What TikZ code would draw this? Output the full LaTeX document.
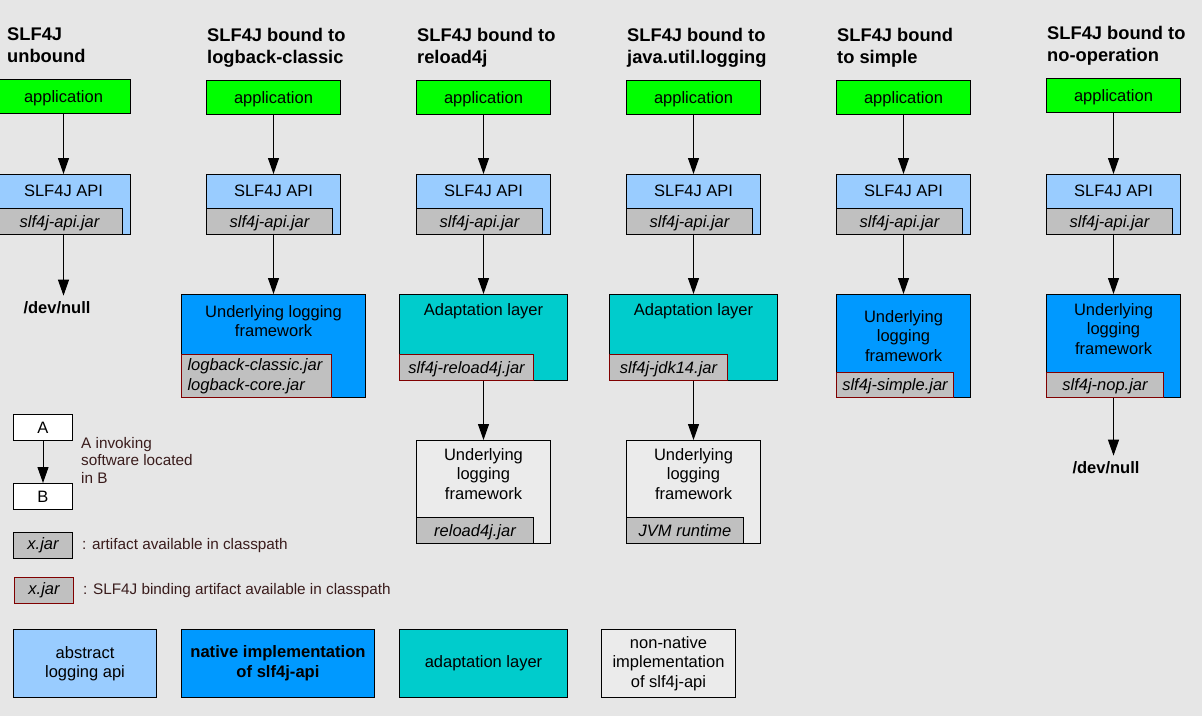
\documentclass[tikz,border=0pt]{standalone}
\usepackage{fontspec}
\setmainfont{Liberation Sans}
\usetikzlibrary{arrows.meta,positioning}

\definecolor{bg}{HTML}{E6E6E6}
\definecolor{appgreen}{HTML}{00FF00}
\definecolor{apiblue}{HTML}{99CCFF}
\definecolor{nativeblue}{HTML}{0099FF}
\definecolor{adaptteal}{HTML}{00CCCC}
\definecolor{jargray}{HTML}{C0C0C0}
\definecolor{plainbox}{HTML}{EBEBEB}
\definecolor{bindred}{HTML}{800000}
\definecolor{legtext}{HTML}{3A1C1C}

\newcommand{\boxfont}{\fontsize{16.5}{19.5}\selectfont}
\newcommand{\legfont}{\fontsize{15.3}{17.5}\selectfont}

\begin{document}
\begin{tikzpicture}[x=1pt, y=-1pt, font=\boxfont,
  box/.style={draw, line width=1pt, inner sep=0pt, anchor=north west, align=center},
  appbox/.style={box, fill=appgreen, minimum width=134pt, minimum height=34pt, text depth=0pt},
  apibox/.style={box, fill=apiblue, minimum width=134pt, minimum height=60pt},
  jarbox/.style={draw, line width=1pt, inner sep=0pt, fill=jargray, font=\boxfont\itshape,
    minimum height=26pt, anchor=south west, text depth=0pt},
  bindbox/.style={jarbox, draw=bindred},
  txt/.style={align=center, inner sep=0pt},
  title/.style={font=\fontsize{18.3}{22}\selectfont\bfseries, align=left, anchor=west, inner sep=0pt},
  devnull/.style={font=\boxfont\bfseries, inner sep=6pt},
  legtxt/.style={font=\legfont, text=legtext, align=left, inner sep=0pt},
  arr/.style={-{Triangle[length=16pt, width=11pt]}, line width=1pt}]

\path[use as bounding box, fill=bg] (0,0) rectangle (1202,716);

% titles
\node[title] (title1) at (7,45) {SLF4J\\unbound};
\node[title] (title2) at (207,48) {SLF4J bound to\\logback-classic};
\node[title] (title3) at (417,48) {SLF4J bound to\\reload4j};
\node[title] (title4) at (627,48) {SLF4J bound to\\java.util.logging};
\node[title] (title5) at (837,48) {SLF4J bound\\to simple};
\node[title] (title6) at (1047,46) {SLF4J bound to\\no-operation};

% application
\node[appbox] (app1) at (-4,79) {application};
\node[appbox] (app2) at (206,80) {application};
\node[appbox] (app3) at (416,80) {application};
\node[appbox] (app4) at (626,80) {application};
\node[appbox] (app5) at (836,80) {application};
\node[appbox] (app6) at (1046,78) {application};

% SLF4J API
\node[apibox] (api1) at (-4,174) {};
\node[txt] (apitxt1) at ([yshift=-17pt]api1.north) {SLF4J API};
\node[jarbox, minimum width=126pt] (apijar1) at (api1.south west) {slf4j-api.jar};
\node[apibox] (api2) at (206,174) {};
\node[txt] (apitxt2) at ([yshift=-17pt]api2.north) {SLF4J API};
\node[jarbox, minimum width=126pt] (apijar2) at (api2.south west) {slf4j-api.jar};
\node[apibox] (api3) at (416,174) {};
\node[txt] (apitxt3) at ([yshift=-17pt]api3.north) {SLF4J API};
\node[jarbox, minimum width=126pt] (apijar3) at (api3.south west) {slf4j-api.jar};
\node[apibox] (api4) at (626,174) {};
\node[txt] (apitxt4) at ([yshift=-17pt]api4.north) {SLF4J API};
\node[jarbox, minimum width=126pt] (apijar4) at (api4.south west) {slf4j-api.jar};
\node[apibox] (api5) at (836,174) {};
\node[txt] (apitxt5) at ([yshift=-17pt]api5.north) {SLF4J API};
\node[jarbox, minimum width=126pt] (apijar5) at (api5.south west) {slf4j-api.jar};
\node[apibox] (api6) at (1046,174) {};
\node[txt] (apitxt6) at ([yshift=-17pt]api6.north) {SLF4J API};
\node[jarbox, minimum width=126pt] (apijar6) at (api6.south west) {slf4j-api.jar};

% unbound
\node[devnull] (null1) at (57,308) {/dev/null};

% logback-classic
\node[box, fill=nativeblue, minimum width=184pt, minimum height=103pt] (fw2) at (181,294) {};
\node[txt] (fwtxt2) at ([yshift=-27pt]fw2.north) {Underlying logging\\framework};
\node[bindbox, text depth=, minimum height=43pt, text width=138pt, inner xsep=6pt, align=left] (fwjar2)
  at (fw2.south west) {logback-classic.jar\\logback-core.jar};

% reload4j
\node[box, fill=adaptteal, minimum width=168pt, minimum height=86pt] (adapt3) at (399,294) {};
\node[txt] (adapttxt3) at ([yshift=-17pt]adapt3.north) {Adaptation layer};
\node[bindbox, minimum width=134pt] (adaptjar3) at (adapt3.south west) {slf4j-reload4j.jar};
\node[box, fill=plainbox, minimum width=134pt, minimum height=103pt] (under3) at (416,440) {};
\node[txt] (undertxt3) at ([yshift=-34pt]under3.north) {Underlying\\logging\\framework};
\node[jarbox, minimum width=117pt] (underjar3) at (under3.south west) {reload4j.jar};

% java.util.logging
\node[box, fill=adaptteal, minimum width=168pt, minimum height=86pt] (adapt4) at (609,294) {};
\node[txt] (adapttxt4) at ([yshift=-17pt]adapt4.north) {Adaptation layer};
\node[bindbox, minimum width=118pt] (adaptjar4) at (adapt4.south west) {slf4j-jdk14.jar};
\node[box, fill=plainbox, minimum width=134pt, minimum height=103pt] (under4) at (626,440) {};
\node[txt] (undertxt4) at ([yshift=-34pt]under4.north) {Underlying\\logging\\framework};
\node[jarbox, minimum width=117pt] (underjar4) at (under4.south west) {JVM runtime};

% simple
\node[box, fill=nativeblue, minimum width=134pt, minimum height=103pt] (fw5) at (836,294) {};
\node[txt] (fwtxt5) at ([yshift=-42pt]fw5.north) {Underlying\\logging\\framework};
\node[bindbox, minimum width=117pt, minimum height=25pt] (fwjar5) at (fw5.south west) {slf4j-simple.jar};

% no-operation
\node[box, fill=nativeblue, minimum width=134pt, minimum height=103pt] (fw6) at (1046,294) {};
\node[txt] (fwtxt6) at ([yshift=-35pt]fw6.north) {Underlying\\logging\\framework};
\node[bindbox, minimum width=117pt, minimum height=25pt] (fwjar6) at (fw6.south west) {slf4j-nop.jar};
\node[devnull] (null6) at (1106,468) {/dev/null};

% calls
\draw[arr] (app1) -- (api1);
\draw[arr] (app2) -- (api2);
\draw[arr] (app3) -- (api3);
\draw[arr] (app4) -- (api4);
\draw[arr] (app5) -- (api5);
\draw[arr] (app6) -- (api6);
\draw[arr] (api1) -- (api1 |- null1.north);
\draw[arr] (api2) -- (fw2);
\draw[arr] (api3) -- (adapt3);
\draw[arr] (api4) -- (adapt4);
\draw[arr] (api5) -- (fw5);
\draw[arr] (api6) -- (fw6);
\draw[arr] (adapt3) -- (under3);
\draw[arr] (adapt4) -- (under4);
\draw[arr] (fw6) -- (fw6 |- null6.north);

% legend
\node[box, fill=white, minimum width=59pt, minimum height=26pt, text depth=0pt] (keyA) at (13,414) {A};
\node[box, fill=white, minimum width=59pt, minimum height=26pt, text depth=0pt] (keyB) at (13,483) {B};
\draw[arr] (keyA) -- (keyB);
\node[legtxt, anchor=west] (keyAtxt) at (81,460) {A invoking\\software located\\in B};

\node[box, fill=jargray, font=\boxfont\itshape, minimum width=59pt, minimum height=26pt] (keyjar) at (13,532) {x.jar};
\node[legtxt, right=9pt of keyjar] (keyjartxt) {: artifact available in classpath};
\node[box, draw=bindred, fill=jargray, font=\boxfont\itshape, minimum width=59pt, minimum height=26pt] (keybind) at (14,577) {x.jar};
\node[legtxt, right=9pt of keybind] (keybindtxt) {: SLF4J binding artifact available in classpath};

\node[box, fill=apiblue, minimum width=143pt, minimum height=68pt] (keyapi) at (13,629) {abstract\\logging api};
\node[box, fill=nativeblue, font=\fontsize{16.6}{20}\selectfont\bfseries, minimum width=193pt, minimum height=68pt] (keynative) at (181,629) {native implementation\\of slf4j-api};
\node[box, fill=adaptteal, minimum width=168pt, minimum height=68pt] (keyadapt) at (399,629) {adaptation layer};
\node[box, fill=plainbox, minimum width=134pt, minimum height=68pt] (keyplain) at (601,629) {non-native\\implementation\\of slf4j-api};

\end{tikzpicture}
\end{document}
